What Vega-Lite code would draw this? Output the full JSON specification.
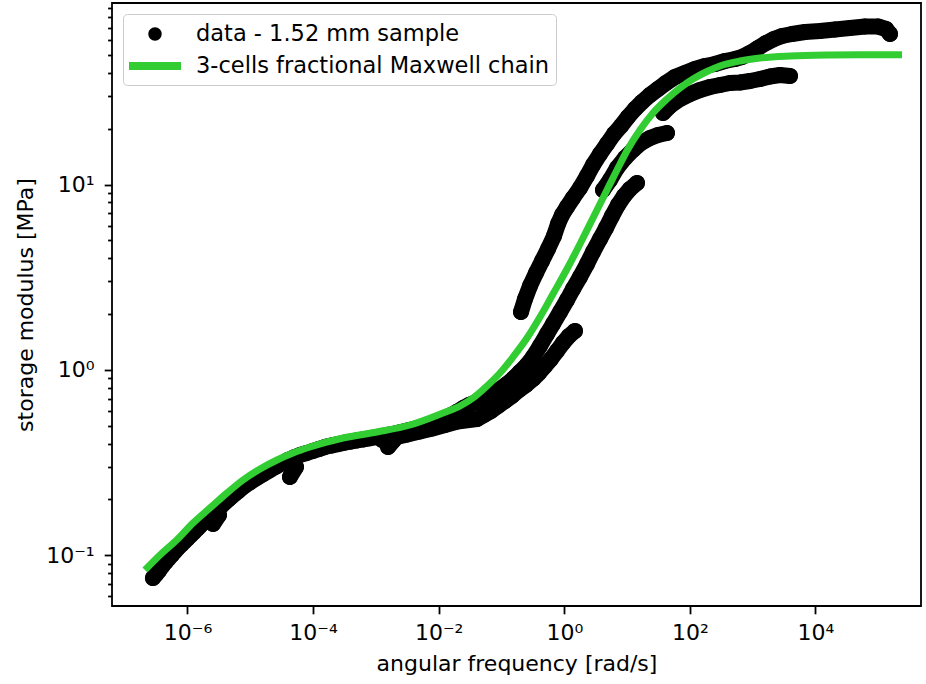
{
  "$schema": "https://vega.github.io/schema/vega-lite/v6.json",
  "width": 809,
  "height": 603,
  "autosize": {"type": "none"},
  "padding": {"left": 112, "top": 3, "right": 5, "bottom": 78},
  "background": "white",
  "config": {
    "font": "DejaVu Sans",
    "view": {"stroke": "black", "strokeWidth": 1.8},
    "axis": {"domain": false, "grid": false, "tickColor": "black", "tickWidth": 1.8, "labelColor": "black", "labelFont": "DejaVu Sans", "labelFontSize": 22, "titleFont": "DejaVu Sans", "titleFontSize": 22, "titleFontWeight": "normal", "titleColor": "black", "labelOverlap": false, "labelFlush": false},
    "legend": {"orient": "none", "legendX": 11, "legendY": 11, "padding": 7, "fillColor": "rgba(255,255,255,0.8)", "strokeColor": "#cccccc", "cornerRadius": 4, "labelFont": "DejaVu Sans", "labelFontSize": 22.5, "labelColor": "black", "labelOffset": 28, "labelLimit": 700, "rowPadding": 7, "symbolSize": 676, "symbolOffset": 12, "symbolStrokeWidth": 0, "symbolOpacity": 1}
  },
  "datasets": {
    "obs": [
      {"w": 2.818e-7, "g": 0.0752, "s": "a"}, {"w": 3.162e-7, "g": 0.0788, "s": "a"}, {"w": 3.548e-7, "g": 0.0827, "s": "a"}, {"w": 3.981e-7, "g": 0.0872, "s": "a"}, {"w": 4.467e-7, "g": 0.0916, "s": "a"}, {"w": 5.012e-7, "g": 0.0959, "s": "a"}, {"w": 5.623e-7, "g": 0.1001, "s": "a"}, {"w": 6.310e-7, "g": 0.1048, "s": "a"}, {"w": 7.079e-7, "g": 0.1094, "s": "a"}, {"w": 7.943e-7, "g": 0.1137, "s": "a"}, {"w": 8.913e-7, "g": 0.1183, "s": "a"}, {"w": 1.0e-6, "g": 0.1229, "s": "a"}, {"w": 1.122e-6, "g": 0.1279, "s": "a"}, {"w": 1.259e-6, "g": 0.1329, "s": "a"}, {"w": 1.413e-6, "g": 0.1381, "s": "a"}, {"w": 1.585e-6, "g": 0.1438, "s": "a"}, {"w": 1.778e-6, "g": 0.1494, "s": "a"}, {"w": 1.995e-6, "g": 0.1552, "s": "a"}, {"w": 2.239e-6, "g": 0.1616, "s": "a"}, {"w": 2.512e-6, "g": 0.1673, "s": "a"}, {"w": 2.818e-6, "g": 0.1734, "s": "a"}, {"w": 3.162e-6, "g": 0.1796, "s": "a"}, {"w": 3.548e-6, "g": 0.1859, "s": "a"}, {"w": 3.981e-6, "g": 0.1927, "s": "a"}, {"w": 4.467e-6, "g": 0.1996, "s": "a"}, {"w": 5.012e-6, "g": 0.2066, "s": "a"}, {"w": 5.623e-6, "g": 0.2134, "s": "a"}, {"w": 6.310e-6, "g": 0.2204, "s": "a"}, {"w": 7.943e-6, "g": 0.2351, "s": "a"}, {"w": 1.0e-5, "g": 0.2477, "s": "a"}, {"w": 1.259e-5, "g": 0.2607, "s": "a"}, {"w": 1.585e-5, "g": 0.2729, "s": "a"}, {"w": 1.995e-5, "g": 0.2858, "s": "a"}, {"w": 2.512e-5, "g": 0.2992, "s": "a"}, {"w": 3.162e-5, "g": 0.3122, "s": "a"}, {"w": 3.981e-5, "g": 0.3256, "s": "a"}, {"w": 5.012e-5, "g": 0.3372, "s": "a"}, {"w": 6.310e-5, "g": 0.3475, "s": "a"}, {"w": 7.943e-5, "g": 0.3556, "s": "a"}, {"w": 1.0e-4, "g": 0.3646, "s": "a"}, {"w": 1.259e-4, "g": 0.3742, "s": "a"}, {"w": 1.585e-4, "g": 0.3841, "s": "a"}, {"w": 1.995e-4, "g": 0.3908, "s": "a"}, {"w": 2.512e-4, "g": 0.3972, "s": "a"}, {"w": 3.162e-4, "g": 0.4042, "s": "a"}, {"w": 3.981e-4, "g": 0.4097, "s": "a"}, {"w": 5.012e-4, "g": 0.4154, "s": "a"}, {"w": 6.310e-4, "g": 0.4211, "s": "a"}, {"w": 7.943e-4, "g": 0.4269, "s": "a"}, {"w": 1.0e-3, "g": 0.4328, "s": "a"}, {"w": 1.259e-3, "g": 0.4392, "s": "a"}, {"w": 1.585e-3, "g": 0.4459, "s": "a"}, {"w": 1.995e-3, "g": 0.4526, "s": "a"}, {"w": 2.512e-3, "g": 0.4611, "s": "a"}, {"w": 3.162e-3, "g": 0.4698, "s": "a"}, {"w": 3.981e-3, "g": 0.4792, "s": "a"}, {"w": 5.012e-3, "g": 0.4889, "s": "a"}, {"w": 6.310e-3, "g": 0.4999, "s": "a"}, {"w": 7.943e-3, "g": 0.515, "s": "a"}, {"w": 0.01, "g": 0.5312, "s": "a"}, {"w": 0.01259, "g": 0.5494, "s": "a"}, {"w": 0.01585, "g": 0.5709, "s": "a"}, {"w": 0.01995, "g": 0.5957, "s": "a"}, {"w": 0.02512, "g": 0.6244, "s": "a"}, {"w": 0.03162, "g": 0.6497, "s": "a"},
      {"w": 0.03926, "g": 0.6703, "s": "a"}, {"w": 0.0526, "g": 0.7045, "s": "a"}, {"w": 0.07063, "g": 0.7403, "s": "a"}, {"w": 0.09462, "g": 0.7878, "s": "a"}, {"w": 0.1225, "g": 0.8383, "s": "a"}, {"w": 0.1581, "g": 0.9031, "s": "a"}, {"w": 0.1972, "g": 0.973, "s": "a"}, {"w": 0.2547, "g": 1.062, "s": "a"}, {"w": 0.3177, "g": 1.172, "s": "a"}, {"w": 0.4102, "g": 1.344, "s": "a"}, {"w": 0.5309, "g": 1.561, "s": "a"}, {"w": 0.6607, "g": 1.767, "s": "a"}, {"w": 0.8551, "g": 2.051, "s": "a"}, {"w": 1.104, "g": 2.38, "s": "a"}, {"w": 1.377, "g": 2.73, "s": "a"}, {"w": 1.778, "g": 3.168, "s": "a"}, {"w": 2.301, "g": 3.724, "s": "a"}, {"w": 2.864, "g": 4.322, "s": "a"}, {"w": 3.707, "g": 5.082, "s": "a"}, {"w": 4.613, "g": 5.824, "s": "a"}, {"w": 5.754, "g": 6.761, "s": "a"}, {"w": 7.161, "g": 7.752, "s": "a"}, {"w": 8.933, "g": 8.669, "s": "a"}, {"w": 11.12, "g": 9.456, "s": "a"}, {"w": 14.39, "g": 10.19, "s": "a"},
      {"w": 2.547e-6, "g": 0.1472, "s": "d1"}, {"w": 3.177e-6, "g": 0.1646, "s": "d1"},
      {"w": 4.285e-5, "g": 0.264, "s": "d2"}, {"w": 5.345e-5, "g": 0.2988, "s": "d2"},
      {"w": 1.56e-3, "g": 0.3832, "s": "d3"}, {"w": 1.941e-3, "g": 0.418, "s": "d3"},
      {"w": 1.259e-3, "g": 0.418, "s": "b"}, {"w": 1.995e-3, "g": 0.4312, "s": "b"}, {"w": 3.162e-3, "g": 0.4476, "s": "b"}, {"w": 5.012e-3, "g": 0.4645, "s": "b"}, {"w": 7.943e-3, "g": 0.4822, "s": "b"}, {"w": 0.01259, "g": 0.5036, "s": "b"}, {"w": 0.01995, "g": 0.526, "s": "b"}, {"w": 0.04074, "g": 0.5426, "s": "b"}, {"w": 0.0526, "g": 0.5702, "s": "b"}, {"w": 0.06808, "g": 0.5994, "s": "b"}, {"w": 0.0879, "g": 0.6377, "s": "b"}, {"w": 0.1138, "g": 0.6786, "s": "b"}, {"w": 0.1469, "g": 0.7222, "s": "b"}, {"w": 0.1901, "g": 0.778, "s": "b"}, {"w": 0.2455, "g": 0.8279, "s": "b"}, {"w": 0.3177, "g": 0.8922, "s": "b"}, {"w": 0.3954, "g": 0.961, "s": "b"}, {"w": 0.4932, "g": 1.048, "s": "b"}, {"w": 0.6138, "g": 1.144, "s": "b"}, {"w": 0.7656, "g": 1.263, "s": "b"}, {"w": 0.9528, "g": 1.395, "s": "b"}, {"w": 1.189, "g": 1.522, "s": "b"}, {"w": 1.479, "g": 1.62, "s": "b"},
      {"w": 0.2044, "g": 2.051, "s": "u"}, {"w": 0.2367, "g": 2.41, "s": "u"}, {"w": 0.2843, "g": 2.833, "s": "u"}, {"w": 0.3543, "g": 3.33, "s": "u"}, {"w": 0.4415, "g": 3.866, "s": "u"}, {"w": 0.55, "g": 4.486, "s": "u"}, {"w": 0.6855, "g": 5.274, "s": "u"}, {"w": 0.7938, "g": 6.121, "s": "u"}, {"w": 0.9192, "g": 6.845, "s": "u"}, {"w": 1.104, "g": 7.558, "s": "u"}, {"w": 1.375, "g": 8.455, "s": "u"}, {"w": 1.778, "g": 9.575, "s": "u"}, {"w": 2.299, "g": 11.11, "s": "u"}, {"w": 2.864, "g": 12.74, "s": "u"}, {"w": 3.703, "g": 14.61, "s": "u"}, {"w": 4.786, "g": 16.54, "s": "u"}, {"w": 6.185, "g": 18.73, "s": "u"}, {"w": 7.996, "g": 20.69, "s": "u"}, {"w": 10.33, "g": 23.13, "s": "u"}, {"w": 13.36, "g": 25.55, "s": "u"}, {"w": 17.28, "g": 27.88, "s": "u"}, {"w": 23.15, "g": 30.41, "s": "u"}, {"w": 31.05, "g": 32.77, "s": "u"}, {"w": 41.64, "g": 35.3, "s": "u"}, {"w": 57.9, "g": 38.03, "s": "u"}, {"w": 83.56, "g": 39.97, "s": "u"}, {"w": 120.6, "g": 42.01, "s": "u"}, {"w": 174.0, "g": 43.61, "s": "u"}, {"w": 251.0, "g": 44.71, "s": "u"}, {"w": 362.2, "g": 46.41, "s": "u"}, {"w": 522.6, "g": 47.58, "s": "u"}, {"w": 675.3, "g": 48.77, "s": "u"}, {"w": 905.9, "g": 51.25, "s": "u"}, {"w": 1215, "g": 54.52, "s": "u"}, {"w": 1629, "g": 58.01, "s": "u"}, {"w": 2184, "g": 60.97, "s": "u"}, {"w": 2929, "g": 63.29, "s": "u"}, {"w": 4226, "g": 64.88, "s": "u"}, {"w": 6806, "g": 66.53, "s": "u"}, {"w": 11790, "g": 67.36, "s": "u"}, {"w": 20440, "g": 68.63, "s": "u"}, {"w": 35430, "g": 69.93, "s": "u"}, {"w": 61420, "g": 71.24, "s": "u"}, {"w": 98900, "g": 71.24, "s": "u"}, {"w": 132700, "g": 69.06, "s": "u"}, {"w": 153600, "g": 64.88, "s": "u"},
      {"w": 4.133, "g": 9.34, "s": "s"}, {"w": 5.342, "g": 10.58, "s": "s"}, {"w": 6.906, "g": 12.27, "s": "s"}, {"w": 9.26, "g": 13.9, "s": "s"}, {"w": 12.42, "g": 15.36, "s": "s"}, {"w": 16.65, "g": 16.75, "s": "s"}, {"w": 23.15, "g": 17.82, "s": "s"}, {"w": 31.05, "g": 18.5, "s": "s"}, {"w": 43.2, "g": 18.96, "s": "s"},
      {"w": 37.29, "g": 24.31, "s": "p"}, {"w": 48.2, "g": 26.52, "s": "p"}, {"w": 69.56, "g": 28.93, "s": "p"}, {"w": 100.4, "g": 30.79, "s": "p"}, {"w": 144.8, "g": 32.36, "s": "p"}, {"w": 209.0, "g": 33.59, "s": "p"}, {"w": 301.5, "g": 34.43, "s": "p"}, {"w": 435.1, "g": 35.3, "s": "p"}, {"w": 627.9, "g": 35.52, "s": "p"}, {"w": 905.9, "g": 36.18, "s": "p"}, {"w": 1307, "g": 37.1, "s": "p"}, {"w": 1886, "g": 38.27, "s": "p"}, {"w": 2721, "g": 38.99, "s": "p"}, {"w": 3926, "g": 38.5, "s": "p"}
    ],
    "fit": [
      {"w": 2.104e-7, "g": 0.08309}, {"w": 3.648e-7, "g": 0.1001}, {"w": 6.73e-7, "g": 0.1206}, {"w": 1.224e-6, "g": 0.149}, {"w": 2.282e-6, "g": 0.1796}, {"w": 4.256e-6, "g": 0.2164}, {"w": 7.652e-6, "g": 0.2543}, {"w": 1.427e-5, "g": 0.2915}, {"w": 2.661e-5, "g": 0.326}, {"w": 4.785e-5, "g": 0.3556}, {"w": 8.925e-5, "g": 0.3832}, {"w": 2.993e-4, "g": 0.4285}, {"w": 1.041e-3, "g": 0.4617}, {"w": 3.491e-3, "g": 0.5036}, {"w": 0.01171, "g": 0.5846}, {"w": 0.02183, "g": 0.6377}, {"w": 0.03517, "g": 0.7045}, {"w": 0.05875, "g": 0.8177}, {"w": 0.09465, "g": 0.961}, {"w": 0.1524, "g": 1.172}, {"w": 0.2547, "g": 1.484}, {"w": 0.4103, "g": 1.927}, {"w": 0.6607, "g": 2.565}, {"w": 1.104, "g": 3.499}, {"w": 1.778, "g": 4.774}, {"w": 2.864, "g": 6.596}, {"w": 4.448, "g": 8.888}, {"w": 6.906, "g": 11.97}, {"w": 10.33, "g": 15.55}, {"w": 16.05, "g": 19.68}, {"w": 25.85, "g": 24.31}, {"w": 43.2, "g": 28.93}, {"w": 69.56, "g": 33.18}, {"w": 112.1, "g": 37.1}, {"w": 180.5, "g": 40.47}, {"w": 301.5, "g": 43.61}, {"w": 627.9, "g": 46.41}, {"w": 1307, "g": 48.17}, {"w": 3926, "g": 49.38}, {"w": 17020, "g": 49.99}, {"w": 73760, "g": 50.17}, {"w": 238500, "g": 50.17}
    ]
  },
  "encoding": {
    "x": {
      "field": "w", "type": "quantitative",
      "scale": {"type": "log", "domain": [6.28e-8, 478600], "nice": false},
      "title": "angular frequency [rad/s]",
      "axis": {
        "values": [1e-6, 1e-4, 0.01, 1, 100, 10000],
        "labelExpr": "'10' + (round(log(datum.value)/LN10) < 0 ? '⁻' : '') + ['⁰','¹','²','³','⁴','⁵','⁶','⁷','⁸','⁹'][abs(round(log(datum.value)/LN10))]",
        "tickSize": 7.8, "labelPadding": 8.5, "titlePadding": 10
      }
    },
    "y": {
      "field": "g", "type": "quantitative",
      "scale": {"type": "log", "domain": [0.05312, 95.4], "nice": false},
      "title": "storage modulus [MPa]",
      "axis": {
        "values": [0.06, 0.07, 0.08, 0.09, 0.1, 0.2, 0.3, 0.4, 0.5, 0.6, 0.7, 0.8, 0.9, 1, 2, 3, 4, 5, 6, 7, 8, 9, 10, 20, 30, 40, 50, 60, 70, 80, 90],
        "labelExpr": "abs(log(datum.value)/LN10 - round(log(datum.value)/LN10)) < 0.001 ? '10' + (round(log(datum.value)/LN10) < 0 ? '⁻' : '') + ['⁰','¹','²','³','⁴','⁵','⁶','⁷','⁸','⁹'][abs(round(log(datum.value)/LN10))] : ''",
        "tickSize": {"condition": {"test": "abs(log(datum.value)/LN10 - round(log(datum.value)/LN10)) < 0.001", "value": 7.8}, "value": 4.4},
        "labelPadding": 10, "titlePadding": 8
      }
    }
  },
  "layer": [
    {
      "data": {"name": "obs"},
      "mark": {"type": "line", "color": "black", "strokeWidth": 16, "strokeCap": "round", "strokeJoin": "round"},
      "encoding": {"detail": {"field": "s"}}
    },
    {
      "data": {"name": "obs"},
      "mark": {"type": "point", "filled": true, "size": 961, "opacity": 1, "strokeWidth": 0},
      "encoding": {
        "color": {
          "datum": "data - 1.52 mm sample", "type": "nominal",
          "scale": {"domain": ["data - 1.52 mm sample", "3-cells fractional Maxwell chain"], "range": ["black", "#32cd32"]},
          "legend": {"title": null}
        },
        "shape": {
          "datum": "data - 1.52 mm sample", "type": "nominal",
          "scale": {"domain": ["data - 1.52 mm sample", "3-cells fractional Maxwell chain"], "range": ["M0.515,0A0.515,0.515,0,1,1,-0.515,0A0.515,0.515,0,1,1,0.515,0Z", "M-2,-0.308L2,-0.308L2,0.308L-2,0.308Z"]},
          "legend": {"title": null}
        }
      }
    },
    {
      "data": {"name": "fit"},
      "mark": {"type": "line", "strokeWidth": 7, "interpolate": "monotone", "color": "#32cd32"},
      "encoding": {}
    }
  ]
}
